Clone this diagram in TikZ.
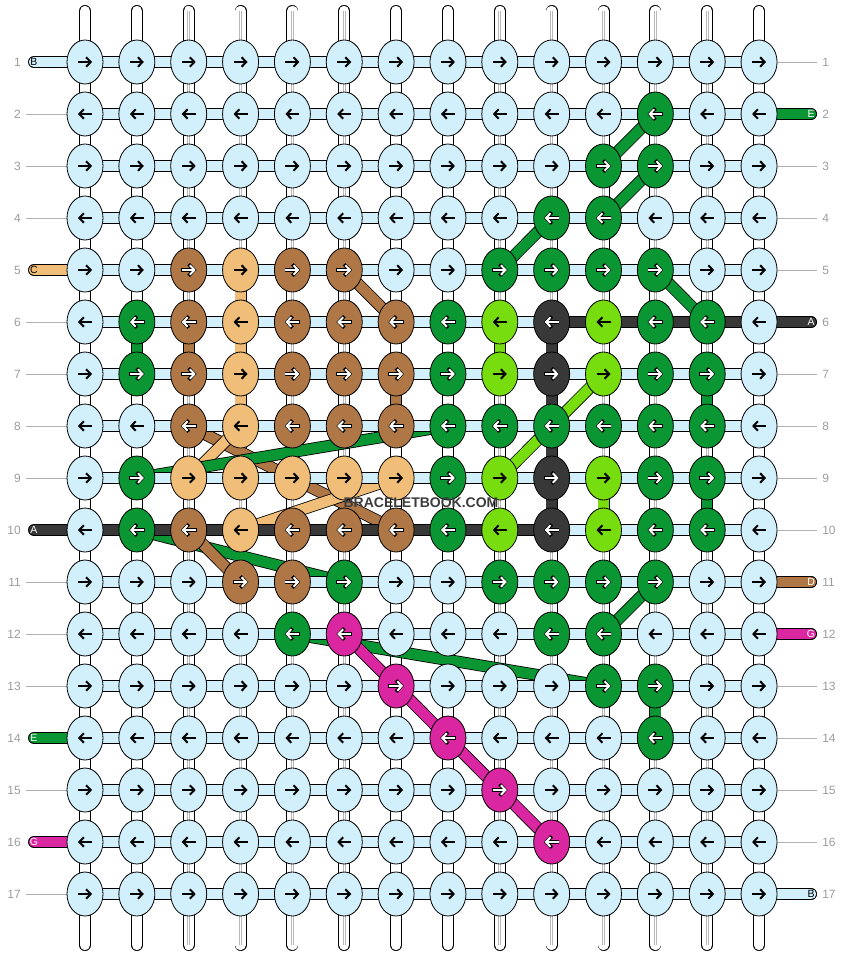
\documentclass[tikz,border=0pt]{standalone}
\usepackage{fontspec}
\setmainfont{Liberation Sans}
\usetikzlibrary{shapes.geometric,arrows.meta}
\definecolor{cb}{HTML}{D2EFFC}
\definecolor{cg}{HTML}{0A9632}
\definecolor{cl}{HTML}{77DD0E}
\definecolor{cd}{HTML}{383838}
\definecolor{cn}{HTML}{B07746}
\definecolor{co}{HTML}{F0BE78}
\definecolor{cm}{HTML}{DA26A0}
\definecolor{labelgray}{HTML}{9C9C9C}
\definecolor{markgray}{HTML}{3C3C3C}
\pgfdeclarelayer{warps}
\pgfdeclarelayer{links}
\pgfdeclarelayer{wefts}
\pgfsetlayers{warps,links,wefts,main}

\begin{document}
\begin{tikzpicture}
[x=1pt,y=-1pt,
  knot/.style={shape=ellipse,draw=black,line width=0.8pt,fill=c#1,minimum width=36pt,minimum height=44pt,inner sep=0pt},
  strand/.style={draw=black,line width=0.8pt,double=c#1,double distance=10.4pt},
  warp/.style={draw=black,line width=0.8pt,double=white,double distance=10.4pt,line cap=round},
  warpcore/.style={draw=black!28,line width=0.7pt,double=white,double distance=1.3pt},
  guide/.style={draw=black!30,line width=0.6pt},
  rownum/.style={text=labelgray,font=\fontsize{12}{12}\selectfont,inner sep=0pt},
  endtag/.style={font=\fontsize{10.5}{10.5}\selectfont,inner sep=0pt,text=#1},
  watermark/.style={text=markgray,font=\bfseries\fontsize{14}{14}\selectfont,inner sep=0pt},
  arrowink/.style={-{Straight Barb[length=4.5pt,width=9.5pt]},line width=2pt,draw=#1},
  arrowhalo/.style={-{Straight Barb[length=5.4pt,width=11.5pt]},line width=3.6pt,draw=black},
  halo-b/.style={}, halo-l/.style={}, halo-o/.style={},
  halo-g/.style={arrowhalo}, halo-d/.style={arrowhalo}, halo-n/.style={arrowhalo}, halo-m/.style={arrowhalo},
  ink-b/.style={arrowink=black}, ink-l/.style={arrowink=black}, ink-o/.style={arrowink=black},
  ink-g/.style={arrowink=white}, ink-d/.style={arrowink=white}, ink-n/.style={arrowink=white}, ink-m/.style={arrowink=white}]
\useasboundingbox (0,0) rectangle (844,956);
%% knots, row by row (odd rows point right, even rows point left)
\foreach \ri/\knots in {
  1/{b,b,b,b,b,b,b,b,b,b,b,b,b,b},
  2/{b,b,b,b,b,b,b,b,b,b,b,g,b,b},
  3/{b,b,b,b,b,b,b,b,b,b,g,g,b,b},
  4/{b,b,b,b,b,b,b,b,b,g,g,b,b,b},
  5/{b,b,n,o,n,n,b,b,g,g,g,g,b,b},
  6/{b,g,n,o,n,n,n,g,l,d,l,g,g,b},
  7/{b,g,n,o,n,n,n,g,l,d,l,g,g,b},
  8/{b,b,n,o,n,n,n,g,g,g,g,g,g,b},
  9/{b,g,o,o,o,o,o,g,l,d,l,g,g,b},
  10/{b,g,n,o,n,n,n,g,l,d,l,g,g,b},
  11/{b,b,b,n,n,g,b,b,g,g,g,g,b,b},
  12/{b,b,b,b,g,m,b,b,b,g,g,b,b,b},
  13/{b,b,b,b,b,b,m,b,b,b,g,g,b,b},
  14/{b,b,b,b,b,b,b,m,b,b,b,g,b,b},
  15/{b,b,b,b,b,b,b,b,m,b,b,b,b,b},
  16/{b,b,b,b,b,b,b,b,b,m,b,b,b,b},
  17/{b,b,b,b,b,b,b,b,b,b,b,b,b,b}} {
  \foreach \k [count=\ci] in \knots {
    \pgfmathsetmacro{\x}{85+(\ci-1)*51.85}
    \pgfmathsetmacro{\y}{62+(\ri-1)*52}
    \pgfmathsetmacro{\dir}{1-2*mod(\ri+1,2)}
    \node (k-\ri-\ci) at (\x,\y) [knot=\k] {};
    \path[halo-\k] (\x-7.8*\dir,\y) -- (\x+7.8*\dir,\y);
    \path[ink-\k] (\x-7*\dir,\y) -- (\x+7*\dir,\y);
  }
}
\begin{pgfonlayer}{warps}
%% warp strings, one per column
\foreach \ci in {1,...,14} {
  \path (k-1-\ci.center) ++(0,-51) coordinate (top-\ci);
  \path (k-17-\ci.center) ++(0,51) coordinate (bot-\ci);
  \draw[warp] (top-\ci) -- (bot-\ci);
  \draw[warpcore] (top-\ci) -- (bot-\ci);
}
\end{pgfonlayer}
\begin{pgfonlayer}{links}
%% coloured runs along the warps
\foreach \col/\src/\dst in {g/6-2/7-2, n/6-3/7-3, o/5-4/8-4, n/7-7/8-7, l/6-9/7-9,
    l/9-11/10-11, g/7-13/8-13, g/9-13/10-13, g/13-12/14-12} {
  \draw[strand=\col] (k-\src.center) -- (k-\dst.center);
}
%% slanted runs from knot to knot
\foreach \col/\src/\dst in {g/2-12/3-11, g/3-12/4-11, g/4-10/5-9, g/5-12/6-13, n/5-6/6-7,
    l/7-11/9-9, n/8-3/10-7, o/8-4/9-3, g/9-2/8-8, o/10-4/9-7, g/10-2/11-6,
    n/10-3/11-4, g/12-11/11-12, g/12-5/13-11, m/12-6/16-10} {
  \draw[strand=\col] (k-\src.center) -- (k-\dst.center);
}
\end{pgfonlayer}
\begin{pgfonlayer}{wefts}
%% weft bars between neighbouring knots
\foreach \ri in {1,...,17} {
  \foreach \ci [evaluate=\ci as \ni using int(\ci+1)] in {1,...,13} {
    \draw[strand=b] (k-\ri-\ci.center) -- (k-\ri-\ni.center);
  }
  \path (k-\ri-1.center) ++(-51,0) coordinate (lend-\ri) ++(-8,0) coordinate (lrule-\ri);
  \path (k-\ri-14.center) ++(52,0) coordinate (rend-\ri) ++(6,0) coordinate (rrule-\ri);
}
%% string A: in at row 6, down column 10, out at row 10
\draw[strand=d,line cap=round] (rend-6) -- (k-6-10.center) -- (k-10-10.center) -- (lend-10);
%% loose string ends
\foreach \col/\ri in {b/1, o/5, g/14, m/16}
  \draw[strand=\col,line cap=round] (lend-\ri) -- (k-\ri-1.center);
\foreach \col/\ri in {g/2, n/11, m/12, b/17}
  \draw[strand=\col,line cap=round] (k-\ri-14.center) -- (rend-\ri);
%% thin rules to the row numbers
\foreach \ri in {2,3,4,6,7,8,9,11,12,13,15,17}
  \draw[guide] (lrule-\ri) -- (k-\ri-1.center);
\foreach \ri in {1,3,4,5,7,8,9,10,13,14,15,16}
  \draw[guide] (k-\ri-14.center) -- (rrule-\ri);
\end{pgfonlayer}
%% row numbers and string letters
\foreach \ri in {1,...,17} {
  \node[rownum,anchor=east] (nl-\ri) at ([xshift=-64pt]k-\ri-1.center) {\ri};
  \node[rownum,anchor=west] (nr-\ri) at ([xshift=63pt]k-\ri-14.center) {\ri};
}
\foreach \txt/\tc/\ri in {B/black/1, C/black/5, A/white/10, E/white/14, G/white/16}
  \node[endtag=\tc] (tl-\ri) at (lend-\ri) {\txt};
\foreach \txt/\tc/\ri in {E/white/2, A/white/6, D/white/11, G/white/12, B/black/17}
  \node[endtag=\tc] (tr-\ri) at (rend-\ri) {\txt};
\node[watermark] (brand) at (421,503) {BRACELETBOOK.COM};
\end{tikzpicture}
\end{document}
